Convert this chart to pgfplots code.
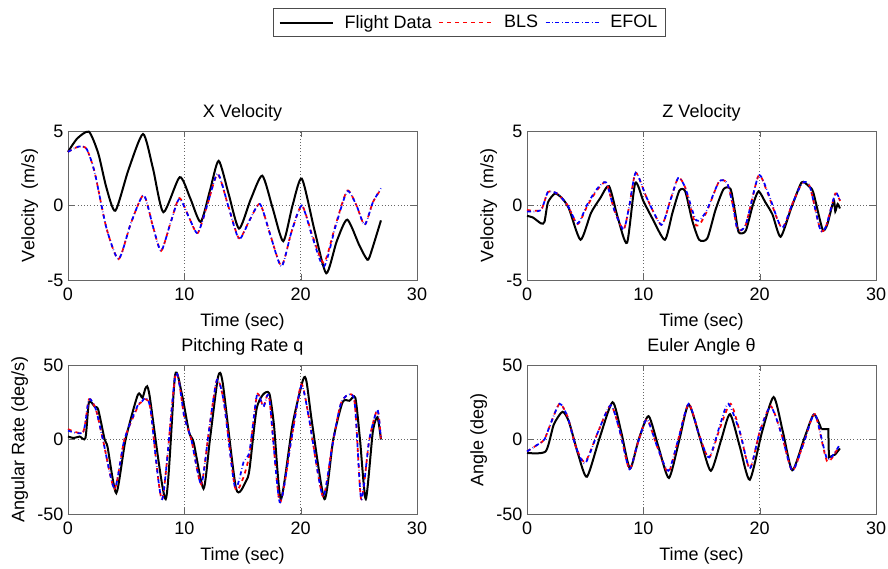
\documentclass[border=0pt]{standalone}
\usepackage{fontspec}
\setmainfont{Liberation Sans}
\usepackage{pgfplots}
\pgfplotsset{compat=1.18}

\pgfplotsset{
  panel/.style={scale only axis, width=261.75pt, height=111.75pt,
    xmin=0, xmax=30, xtick={0,10,20,30},
    grid=major, major grid style={dotted, black!60},
    axis line style={black!60}, tick style={black!60},
    xlabel={Time (sec)},
    font=\fontsize{13.5}{15}\selectfont,
    /pgf/number format/assume math mode=true,
    title style={yshift=-2pt},
    xticklabel style={yshift=-2.5pt},
    xlabel style={yshift=-2.5pt},
    clip=false},
  fd/.style={black, line width=1.5pt, smooth, tension=0.4},
  bls/.style={red, dashed, line width=1.3pt, smooth, tension=0.4},
  efol/.style={blue, dash dot, line width=1.3pt, smooth, tension=0.4},
}

\begin{document}
\begin{tikzpicture}
\useasboundingbox (0,0) rectangle (666pt,426pt);

% ---------------- X velocity ----------------
\begin{axis}[panel, at={(51pt,216pt)}, anchor=south west,
  ymin=-5, ymax=5, ytick={-5,0,5},
  title={X Velocity}, ylabel={Velocity\ \ (m/s)},
  legend columns=3,
  legend style={at={(1.150,1.728)}, anchor=center, draw=black!70,
    font=\fontsize{13.5}{15}\selectfont, inner xsep=4pt, inner ysep=3pt,
    /tikz/every even column/.append style={column sep=3pt},
    /tikz/every odd column/.append style={column sep=6pt}},
  legend image code/.code={\draw[#1] (0pt,0pt) -- (40pt,0pt);}]
\addplot[fd] coordinates {
(0,3.6) (0.8,4.5) (1.8,4.95) (2.6,3.5) (3.3,1.2) (4.07,-0.35) (5.2,2.4)
(6.45,4.8) (7.3,2.5) (8.2,-0.45) (9.6,1.9) (10.5,0.5) (11.4,-1.1) (12.2,1.0)
(12.95,3.0) (13.8,0.8) (14.7,-1.55) (15.7,0.4) (16.7,2.0) (17.6,-0.2)
(18.5,-2.4) (19.3,0.0) (20.1,1.8) (21.2,-1.7) (22.2,-4.55) (23.1,-2.4)
(24.0,-0.95) (25.0,-2.6) (25.6,-3.5) (25.9,-3.5) (26.9,-1.0)};
\addlegendentry{Flight Data}
\addplot[bls] coordinates {
(0,3.6) (0.9,3.95) (1.6,3.8) (2.3,2.2) (3.3,-1.5) (4.35,-3.6) (5.4,-1.2)
(6.5,0.7) (7.3,-1.4) (8.0,-3.05) (8.8,-1.2) (9.57,0.5) (10.4,-0.8)
(11.15,-1.85) (12.0,0.1) (12.87,2.1) (13.8,-0.1) (14.7,-2.2) (15.6,-1.0)
(16.5,0.1) (17.4,-2.0) (18.35,-4.05) (19.2,-1.8) (20.1,0.0) (21.0,-2.0)
(22.0,-3.85) (23.0,-1.3) (24.0,1.0) (24.8,0.0) (25.5,-1.3) (26.2,0.2) (26.9,1.1)};
\addlegendentry{BLS}
\addplot[efol] coordinates {
(0,3.6) (0.9,3.95) (1.6,3.8) (2.3,2.2) (3.3,-1.5) (4.35,-3.6) (5.4,-1.2)
(6.5,0.7) (7.3,-1.4) (8.0,-3.05) (8.8,-1.2) (9.57,0.45) (10.4,-0.8)
(11.15,-1.85) (12.0,0.1) (12.87,2.15) (13.8,-0.1) (14.7,-2.25) (15.6,-1.0)
(16.5,0.1) (17.4,-2.0) (18.35,-4.1) (19.2,-1.8) (20.1,0.0) (21.0,-2.1)
(22.0,-4.1) (23.0,-1.4) (24.0,0.95) (24.8,0.0) (25.5,-1.3) (26.2,0.2) (26.9,1.15)};
\addlegendentry{EFOL}
\end{axis}

% ---------------- Z velocity ----------------
\begin{axis}[panel, at={(395.25pt,216pt)}, anchor=south west,
  ymin=-5, ymax=5, ytick={-5,0,5},
  title={Z Velocity}, ylabel={Velocity\ \ (m/s)}]
\addplot[fd] coordinates {
(0,-0.7) (0.5,-0.8) (1.2,-1.2) (1.5,-1.1) (1.8,0.2) (2.4,0.8) (3.0,0.5)
(3.6,-0.2) (4.6,-2.3) (5.5,-0.5) (6.3,0.5) (7.05,1.3) (7.8,-0.8) (8.6,-2.5)
(9.3,1.5) (10.0,0.3) (10.8,-0.9) (11.85,-2.3) (12.5,-0.5) (13.1,1.0)
(13.6,0.95) (14.2,-1.0) (14.8,-2.3) (15.5,-2.2) (16.2,-0.3) (16.9,1.1)
(17.5,1.1) (17.9,-0.5) (18.2,-1.8) (18.8,-1.7) (19.4,0.0) (19.9,0.95)
(20.5,0.2) (21.1,-0.6) (21.8,-2.1) (22.7,-0.2) (23.6,1.55) (24.2,1.3)
(24.6,0.9) (25.4,-1.6) (25.8,-1.3) (26.2,-0.1) (26.4,0.3) (26.5,-0.4)
(26.7,0.1) (26.9,-0.2)};
\addplot[bls] coordinates {
(0,-0.3) (1.2,-0.3) (1.8,0.9) (2.6,0.8) (3.5,0.0) (4.35,-1.25) (5.2,0.0)
(6.0,1.0) (6.8,1.55) (7.5,-0.3) (8.3,-1.6) (8.8,0.0) (9.35,2.2) (10.3,0.5)
(11.55,-1.3) (12.3,0.3) (13.0,1.85) (13.6,1.2) (14.55,-1.35) (15.4,-0.5)
(16.5,1.6) (17.2,1.5) (17.7,0.0) (18.1,-1.6) (18.8,-1.3) (19.9,2.0)
(20.7,0.8) (21.9,-1.5) (22.8,0.1) (23.65,1.5) (24.3,1.3) (25.2,-1.6)
(25.7,-1.4) (26.5,0.8) (26.9,0.3)};
\addplot[efol] coordinates {
(0,-0.4) (1.2,-0.3) (1.8,0.9) (2.6,0.8) (3.5,0.0) (4.35,-1.2) (5.2,0.1)
(6.0,1.1) (6.8,1.55) (7.5,-0.3) (8.3,-1.6) (8.8,0.0) (9.35,2.2) (10.3,0.5)
(11.55,-1.3) (12.3,0.3) (13.0,1.85) (13.6,1.2) (14.55,-1.0) (15.4,-0.4)
(16.5,1.6) (17.2,1.5) (17.7,0.0) (18.1,-1.6) (18.8,-1.3) (19.9,2.0)
(20.7,0.9) (21.9,-1.5) (22.8,0.1) (23.65,1.5) (24.3,1.3) (25.2,-1.6)
(25.7,-1.4) (26.5,0.8) (26.9,0.35)};
\end{axis}

% ---------------- Pitching rate ----------------
\begin{axis}[panel, at={(51pt,40.5pt)}, anchor=south west,
  ymin=-50, ymax=50, ytick={-50,0,50},
  title={Pitching Rate q}, ylabel={Angular Rate (deg/s)}]
\addplot[fd] coordinates {
(0,2) (0.5,1) (1.0,2) (1.5,1) (1.8,25) (2.3,22) (2.6,20) (3.15,0) (3.4,-5)
(4.15,-36) (4.95,0) (6.0,30) (6.4,28) (6.7,35) (7.0,30) (8.4,-40) (9.2,43)
(9.8,30) (10.4,5) (10.8,-2) (11.65,-33) (12.2,0) (12.9,42) (13.3,38)
(14.45,-33) (15.3,-28) (15.6,-20) (16.2,20) (16.75,30) (17.3,31) (17.7,10)
(18.3,-40) (19.3,10) (20.2,40) (20.5,39) (21.0,10) (22.05,-40) (22.8,0)
(23.6,25) (24.2,26) (24.7,28) (25.1,0) (25.6,-40) (26.2,5) (26.6,15) (26.9,0)};
\addplot[bls] coordinates {
(0,7) (1.3,5) (1.8,27) (2.4,20) (3.0,0) (4.0,-33) (4.85,0) (6.0,22) (6.3,25)
(6.7,27) (7.1,20) (8.1,-40) (9.25,44) (10.0,15) (10.6,0) (11.45,-30) (12.1,5)
(12.8,40) (13.4,25) (14.35,-32) (15.0,-27) (15.6,-10) (16.25,30) (16.8,22)
(17.3,28) (18.2,-42) (19.2,0) (20.05,37) (20.7,15) (21.9,-38) (22.7,-5)
(23.5,25) (24.6,27) (25.2,-40) (25.9,0) (26.6,20) (26.9,0)};
\addplot[efol] coordinates {
(0,6) (1.3,5) (1.8,27) (2.4,20) (3.0,0) (4.0,-33) (4.85,0) (6.0,23) (6.3,25)
(6.7,28) (7.1,20) (8.1,-40) (9.25,44) (10.0,15) (10.6,0) (11.45,-30) (12.1,5)
(12.8,40) (13.4,25) (14.35,-32) (15.1,-15) (15.6,-8) (16.25,30) (16.8,22)
(17.3,28) (18.2,-42) (19.2,0) (20.05,36) (20.7,15) (21.9,-38) (22.7,-5)
(23.5,25) (24.6,27) (25.2,-40) (25.9,0) (26.6,20) (26.9,0)};
\end{axis}

% ---------------- Euler angle ----------------
\begin{axis}[panel, at={(395.25pt,40.5pt)}, anchor=south west,
  ymin=-50, ymax=50, ytick={-50,0,50},
  title={Euler Angle θ}, ylabel={Angle (deg)}]
\addplot[fd] coordinates {
(0,-9) (1.6,-8) (2.3,10) (3.05,18.6) (3.6,12) (4.4,-10) (5.15,-25) (6.2,0)
(7.35,25) (8.1,5) (8.85,-19.5) (9.6,0) (10.45,15.7) (11.3,-5) (12.2,-25.8)
(13.1,0) (13.9,23.5) (14.9,0) (15.8,-21) (16.7,0) (17.45,17) (18.3,-5)
(19.15,-27) (20.2,5) (21.2,28.5) (22.0,5) (22.8,-20.6) (23.8,0) (24.65,16.8)
(25.3,7)};
\addplot[black, line width=1.5pt] coordinates {
(25.3,7) (25.9,7) (25.95,-12) (26.5,-10) (26.9,-6)};
\addplot[bls] coordinates {
(0,-8) (1.0,-3) (1.5,0) (2.0,10) (2.8,24) (3.5,15) (4.2,-5) (5.0,-15)
(6.1,5) (7.2,23) (8.0,5) (8.8,-20) (9.5,-3) (10.3,13.5) (11.2,-5)
(12.15,-22) (13.0,0) (13.9,24) (14.8,3) (15.65,-12.3) (16.6,8) (17.5,24)
(18.3,5) (19.15,-19.5) (20.0,5) (20.95,22.4) (21.9,3) (22.8,-21) (23.8,-2)
(24.75,17) (25.8,-14.6) (26.8,-4.5)};
\addplot[efol] coordinates {
(0,-8) (1.0,-3) (1.5,0) (2.0,10) (2.8,24) (3.5,15) (4.2,-5) (5.0,-16)
(6.1,5) (7.2,23) (8.0,5) (8.8,-20) (9.5,-3) (10.3,13.5) (11.2,-5)
(12.15,-21) (13.0,0) (13.9,24) (14.8,3) (15.65,-12) (16.6,10) (17.3,24)
(18.3,5) (19.15,-19.5) (20.0,5) (20.95,22) (21.9,3) (22.8,-21) (23.8,-2)
(24.75,17) (25.8,-13) (26.8,-4.5)};
\end{axis}
\end{tikzpicture}
\end{document}
